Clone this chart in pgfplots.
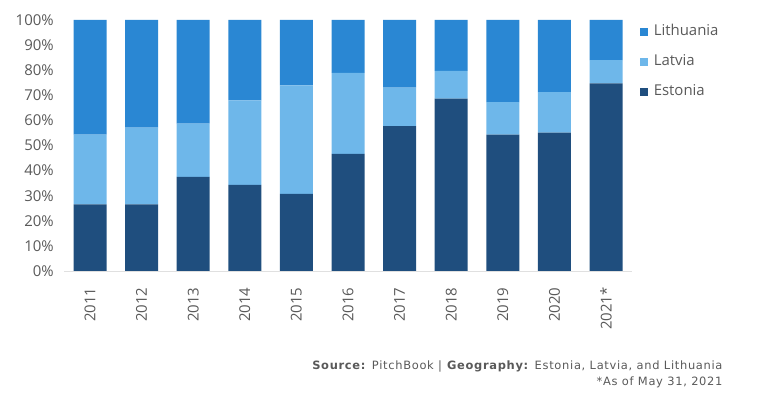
\documentclass[border=0pt]{standalone}
\usepackage{pgfplots}
\usepackage{pgfplotstable}
\pgfplotsset{compat=1.18}
\usepackage{fontspec}
\setmainfont{Open Sans}
\newfontfamily\notefont[LetterSpace=6]{DejaVu Sans}

\definecolor{lith}{HTML}{2A87D3}
\definecolor{latv}{HTML}{6EB7EA}
\definecolor{esto}{HTML}{1F4E7E}
\definecolor{txt}{HTML}{595959}

% share of deals by country, in %
\pgfplotstableread{
x  est   lat   lit
0  26.5  27.8  45.7
1  26.5  30.6  42.9
2  37.5  21.2  41.3
3  34.3  33.7  32.0
4  30.7  43.3  26.0
5  46.7  32.2  21.1
6  57.7  15.4  26.9
7  68.7  11.0  20.3
8  54.3  13.0  32.7
9  55.1  16.2  28.7
10 74.7   9.3  16.0
}\shares

\begin{document}
\begin{tikzpicture}
\begin{axis}[
    at={(64.2bp,132bp)}, anchor=south west,
    scale only axis, width=567.6bp, height=251bp,
    ybar stacked, bar width=33bp,
    xmin=-0.5, xmax=10.5, ymin=0, ymax=100,
    xtick={0,...,10},
    xticklabels={2011,2012,2013,2014,2015,2016,2017,2018,2019,2020,2021*},
    ytick={0,10,...,100},
    yticklabel={\pgfmathprintnumber{\tick}\%},
    /pgf/number format/assume math mode=true,
    major tick length=0pt,
    axis x line*=bottom, axis y line*=left,
    y axis line style={draw=none},
    x axis line style={draw=black!12, line width=0.8pt},
    x tick label style={rotate=90, anchor=east, text=txt,
        font=\fontsize{15}{15}\selectfont, xshift=-13bp},
    y tick label style={text=txt, font=\fontsize{15}{15}\selectfont, xshift=-7bp},
    reverse legend,
    legend cell align=left,
    legend style={at={(1.0137,0.99)}, anchor=north west, draw=none, fill=none,
        inner sep=0pt, row sep=12bp, font=\fontsize{15}{15}\selectfont, text=txt,
        nodes={inner sep=2bp, text height=11bp, text depth=3bp},
        /tikz/every odd column/.append style={column sep=4bp}},
    legend image code/.code={\fill[#1] (0bp,-4bp) rectangle (8bp,4bp);},
]
\addplot[fill=esto, draw=none] table[x=x, y=est] {\shares};
\addlegendentry{Estonia}
\addplot[fill=latv, draw=none] table[x=x, y=lat] {\shares};
\addlegendentry{Latvia}
\addplot[fill=lith, draw=none] table[x=x, y=lit] {\shares};
\addlegendentry{Lithuania}
\end{axis}
\node[anchor=east, text=txt, font=\notefont\fontsize{11.5}{11.5}\selectfont] at (726bp,37bp)
    {\textbf{Source:} PitchBook | \textbf{Geography:} Estonia, Latvia, and Lithuania};
\node[anchor=east, text=txt, font=\notefont\fontsize{11.5}{11.5}\selectfont] at (726bp,21bp)
    {*As of May 31, 2021};
\pgfresetboundingbox
\path[use as bounding box] (0bp,0bp) rectangle (759bp,403bp);
\end{tikzpicture}
\end{document}
